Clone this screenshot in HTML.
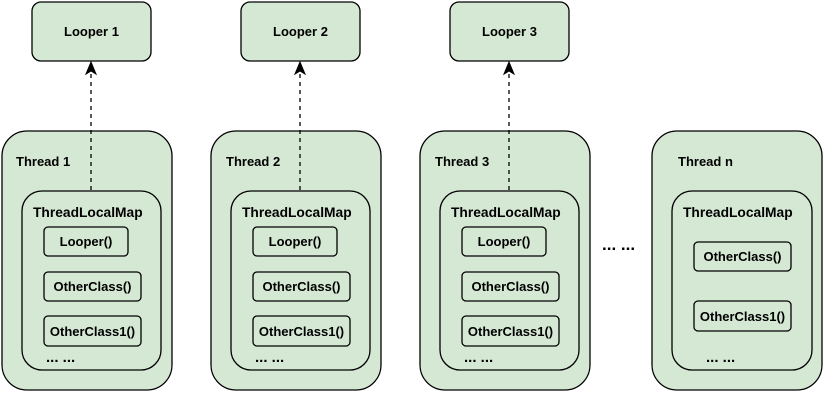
<!DOCTYPE html>
<html><head><style>body{margin:0;background:#fff}svg text{font-family:"Liberation Sans",Arial,sans-serif;font-weight:bold;font-size:13px;fill:#000}</style></head><body>
<svg width="833" height="403" xmlns="http://www.w3.org/2000/svg">
<defs>
<g id="col">
<rect x="32" y="2" width="119" height="59" rx="9" fill="#d5e8d4" stroke="#000" stroke-width="1.3"/>
<rect x="2" y="131" width="170" height="259" rx="25" fill="#d5e8d4" stroke="#000" stroke-width="1.3"/>
<rect x="22" y="191" width="139" height="179" rx="20" fill="#d5e8d4" stroke="#000" stroke-width="1.3"/>
<rect x="44" y="227" width="84" height="29" rx="4" fill="#d5e8d4" stroke="#000" stroke-width="1.3"/>
<rect x="44" y="272" width="97" height="29" rx="4" fill="#d5e8d4" stroke="#000" stroke-width="1.3"/>
<rect x="44" y="316" width="97" height="30" rx="4" fill="#d5e8d4" stroke="#000" stroke-width="1.3"/>
<text x="33" y="217" style="font-size:13.8px">ThreadLocalMap</text>
<text x="86" y="246" text-anchor="middle">Looper()</text>
<text x="92.5" y="291" text-anchor="middle">OtherClass()</text>
<text x="92.5" y="336" text-anchor="middle">OtherClass1()</text>
<text x="46" y="362" style="font-size:15px">... ...</text>
<line x1="91" y1="190" x2="91" y2="72" stroke="#000" stroke-width="1.3" stroke-dasharray="4,4"/>
<path d="M91 62 L86 74 L91 71 L96 74 Z" fill="#000" stroke="#000"/>
</g>
</defs>
<use href="#col"/>
<use href="#col" x="209"/>
<use href="#col" x="418"/>
<text x="91.5" y="36" text-anchor="middle">Looper 1</text>
<text x="300.5" y="36" text-anchor="middle">Looper 2</text>
<text x="509.5" y="36" text-anchor="middle">Looper 3</text>
<text x="16" y="166">Thread 1</text>
<text x="226" y="166">Thread 2</text>
<text x="435" y="166">Thread 3</text>
<text x="602" y="250" style="font-size:17px">... ...</text>
<rect x="652" y="131" width="170" height="259" rx="25" fill="#d5e8d4" stroke="#000" stroke-width="1.3"/>
<rect x="672" y="191" width="140" height="179" rx="20" fill="#d5e8d4" stroke="#000" stroke-width="1.3"/>
<rect x="694" y="242" width="97" height="29" rx="4" fill="#d5e8d4" stroke="#000" stroke-width="1.3"/>
<rect x="694" y="301" width="97" height="30" rx="4" fill="#d5e8d4" stroke="#000" stroke-width="1.3"/>
<text x="678" y="166">Thread n</text>
<text x="683" y="217" style="font-size:13.8px">ThreadLocalMap</text>
<text x="742.5" y="261" text-anchor="middle">OtherClass()</text>
<text x="742.5" y="321" text-anchor="middle">OtherClass1()</text>
<text x="706" y="362" style="font-size:15px">... ...</text>
</svg>
</body></html>
